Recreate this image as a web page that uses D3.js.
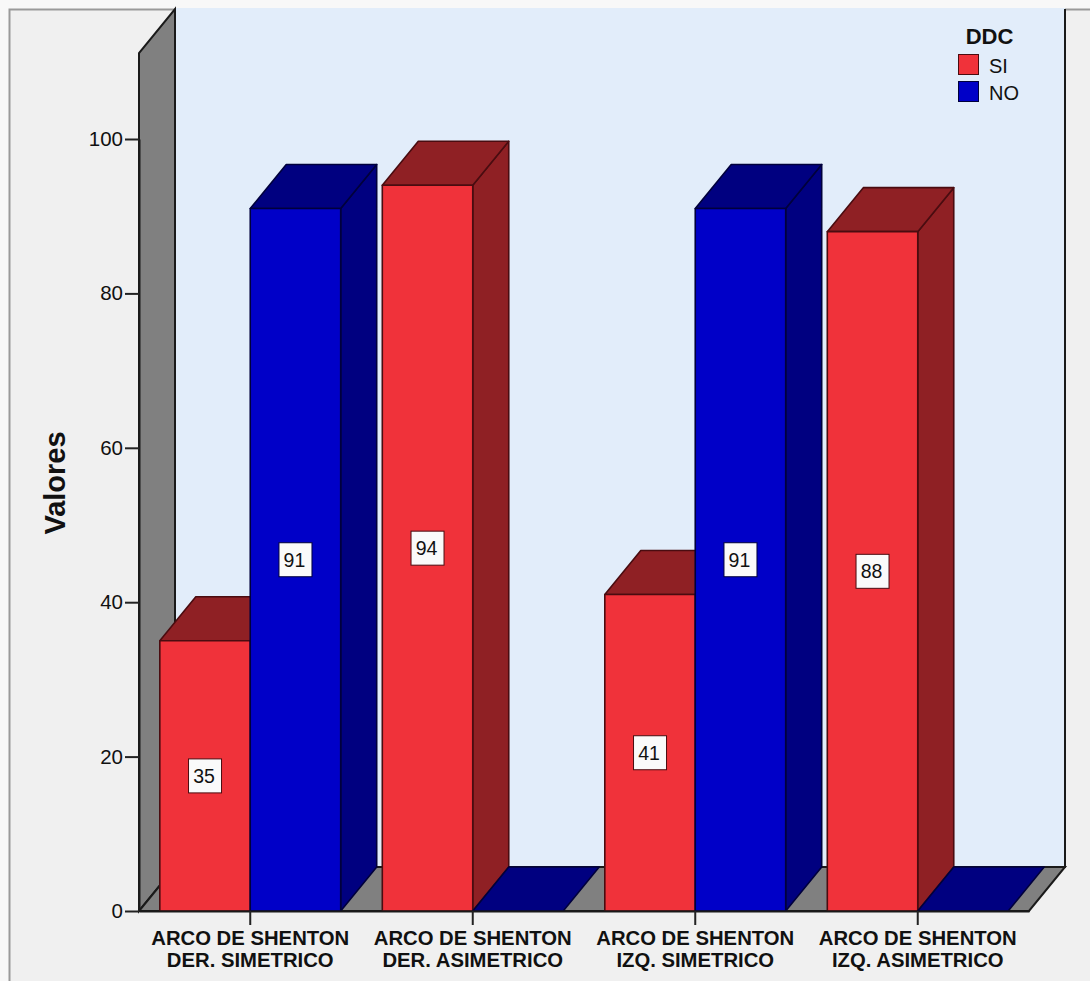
<!DOCTYPE html>
<html>
<head>
<meta charset="utf-8">
<script src="https://cdn.jsdelivr.net/npm/d3@7"></script>
<style>
  html, body { margin: 0; padding: 0; background: #fff; }
  svg { display: block; }
  text { font-family: "Liberation Sans", Arial, sans-serif; fill: #111; }
</style>
</head>
<body>
<svg id="chart" width="1090" height="981"></svg>
<script>
// Values per category and DDC group
const categories = [
  ["ARCO DE SHENTON", "DER. SIMETRICO"],
  ["ARCO DE SHENTON", "DER. ASIMETRICO"],
  ["ARCO DE SHENTON", "IZQ. SIMETRICO"],
  ["ARCO DE SHENTON", "IZQ. ASIMETRICO"]
];
const seriesNames = ["SI", "NO"];
const siValues = [35, 94, 41, 88];
const noValues = [91, 0, 91, 0];
const yTicks = [0, 20, 40, 60, 80, 100];

const palette = {
  SI: { front: "#f0323a", shade: "#8f2024", edge: "#4a0c10" },
  NO: { front: "#0000c8", shade: "#000080", edge: "#00003c" }
};

// Oblique offset of the 3D box
const depth = { x: 36, y: -44 };
const plot = { left: 139, right: 1029, bottom: 911, top: 53 };

const svg = d3.select("#chart");

const y = d3.scaleLinear().domain([0, 100]).range([plot.bottom, 139]);
const yMax = y.invert(plot.top);

const x0 = d3.scaleBand()
  .domain(categories.map(d => d.join(" ")))
  .range([plot.left, plot.right])
  .paddingInner(0.187)
  .paddingOuter(0.0935);
const x1 = d3.scaleBand().domain(seriesNames).range([0, x0.bandwidth()]);

const pts = p => p.map(q => q.join(",")).join(" ");
const back = ([px, py]) => [px + depth.x, py + depth.y];

// Outer panel with its grey frame
svg.append("rect").attr("width", 1090).attr("height", 981).attr("fill", "#f8f8f8");
svg.append("rect").attr("x", 9).attr("y", 9).attr("width", 1081).attr("height", 972).attr("fill", "#f0f0f0");
svg.append("path").attr("d", "M9.5,981V9.5H1090").attr("fill", "none")
  .attr("stroke", "#9a9a9a").attr("stroke-width", 2);

// Back wall: the top edge stays open, only left, right and bottom are ruled
const bl = [plot.left, y(0)], br = [plot.right, y(0)];
const tl = [plot.left, y(yMax)], tr = [plot.right, y(yMax)];
svg.append("polygon").attr("points", pts([back(bl), back(br), back(tr), back(tl)]))
  .attr("fill", "#e2edfa");
svg.append("rect").attr("x", back(tl)[0]).attr("y", back(tl)[1] - 1)
  .attr("width", back(tr)[0] - back(tl)[0]).attr("height", 2).attr("fill", "#e2edfa");
svg.append("polyline").attr("points", pts([back(tr), back(br), back(bl)]))
  .attr("fill", "none").attr("stroke", "#1a1a1a").attr("stroke-width", 2);

// Side wall and floor
svg.append("polygon").attr("points", pts([bl, back(bl), back(tl), tl]))
  .attr("fill", "#808080").attr("stroke", "#1a1a1a").attr("stroke-width", 2);
svg.append("polygon").attr("points", pts([bl, br, back(br), back(bl)]))
  .attr("fill", "#808080").attr("stroke", "#1a1a1a").attr("stroke-width", 2);

// Bars, one record per category and series
const records = categories.flatMap((c, i) => [
  { cat: c.join(" "), name: "SI", value: siValues[i] },
  { cat: c.join(" "), name: "NO", value: noValues[i] }
]);

const bars = svg.append("g").selectAll("g").data(records).join("g");

bars.each(function (d) {
  const g = d3.select(this);
  const col = palette[d.name];
  const xa = x0(d.cat) + x1(d.name);
  const xb = xa + x1.bandwidth();
  const yt = y(d.value), yb = y(0);
  const faceStyle = sel => sel.attr("stroke", col.edge).attr("stroke-width", 1.6)
    .attr("stroke-linejoin", "round");

  if (d.value > 0) {
    g.append("polygon").attr("points", pts([[xb, yb], back([xb, yb]), back([xb, yt]), [xb, yt]]))
      .attr("fill", col.shade).call(faceStyle);
  }
  g.append("polygon").attr("points", pts([[xa, yt], [xb, yt], back([xb, yt]), back([xa, yt])]))
    .attr("fill", col.shade).call(faceStyle);
  if (d.value > 0) {
    g.append("rect").attr("x", xa).attr("y", yt).attr("width", xb - xa).attr("height", yb - yt)
      .attr("fill", col.front).call(faceStyle);
  }
});

// Value labels centred on the front faces
bars.filter(d => d.value > 0).each(function (d) {
  const g = d3.select(this);
  const cx = x0(d.cat) + x1(d.name) + x1.bandwidth() / 2;
  const cy = y(d.value / 2);
  g.append("rect").attr("x", cx - 16.5).attr("y", cy - 17).attr("width", 33).attr("height", 34)
    .attr("fill", "#fafafa").attr("stroke", palette[d.name].edge).attr("stroke-width", 1);
  g.append("text").attr("x", cx - 1).attr("y", cy).attr("dy", "0.36em")
    .attr("text-anchor", "middle").attr("font-size", 19.5).attr("fill", "#222").text(d.value);
});

// Axes
const yAxis = svg.append("g").attr("transform", `translate(${plot.left},0)`)
  .call(d3.axisLeft(y).tickValues(yTicks).tickSizeInner(14).tickSizeOuter(0).tickPadding(2).tickFormat(d3.format("d")));
yAxis.select(".domain").attr("stroke", "#1a1a1a").attr("stroke-width", 2);
yAxis.selectAll(".tick line").attr("stroke", "#222").attr("stroke-width", 2);
yAxis.selectAll(".tick text").attr("font-size", 20.5).attr("fill", "#222");

const xAxis = svg.append("g").attr("transform", `translate(0,${plot.bottom})`)
  .call(d3.axisBottom(x0).tickSizeInner(14).tickSizeOuter(0).tickFormat(""));
xAxis.select(".domain").attr("stroke", "#1a1a1a").attr("stroke-width", 2);
xAxis.selectAll(".tick line").attr("stroke", "#222").attr("stroke-width", 2);

const catLabels = svg.append("g").selectAll("text").data(categories).join("text")
  .attr("text-anchor", "middle").attr("font-weight", "bold").attr("font-size", 20.3);
catLabels.selectAll("tspan").data(d => d.map(line => ({ line, key: d.join(" ") }))).join("tspan")
  .attr("x", d => x0(d.key) + x0.bandwidth() / 2)
  .attr("y", (d, i) => 945 + i * 22)
  .text(d => d.line);

// Axis title
svg.append("text").attr("transform", "translate(65,483) rotate(-90)")
  .attr("text-anchor", "middle").attr("font-weight", "bold").attr("font-size", 29).text("Valores");

// Legend
const legend = svg.append("g");
legend.append("text").attr("x", 989.5).attr("y", 44).attr("text-anchor", "middle")
  .attr("font-weight", "bold").attr("font-size", 22).text("DDC");
const legendRows = legend.selectAll("g").data(seriesNames).join("g")
  .attr("transform", (d, i) => `translate(958.5,${54.5 + i * 27})`);
legendRows.append("rect").attr("width", 20).attr("height", 20)
  .attr("fill", d => palette[d].front).attr("stroke", d => palette[d].edge).attr("stroke-width", 1);
legendRows.append("text").attr("x", 30.5).attr("y", 18.5).attr("font-size", 20).attr("fill", "#333").text(d => d);
</script>
</body>
</html>
